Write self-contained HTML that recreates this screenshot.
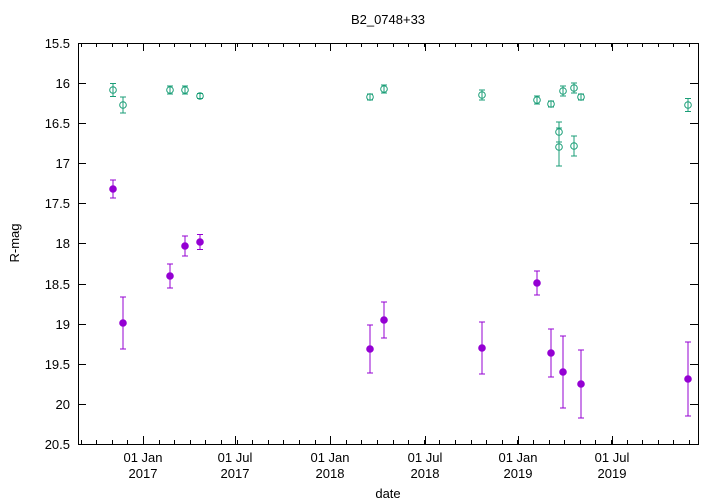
<!DOCTYPE html>
<html><head><meta charset="utf-8"><style>body{margin:0;background:#fff}svg{display:block}text{font-family:"Liberation Sans",sans-serif;font-size:13px;fill:#000}</style></head><body>
<svg width="720" height="504" xmlns="http://www.w3.org/2000/svg">
<rect width="720" height="504" fill="#fff"/>
<g id="ticks" stroke="#000" stroke-width="1">
</g>
<rect x="78.5" y="43.5" width="620" height="401" fill="none" stroke="#000"/>
<text x="388" y="24" text-anchor="middle">B2_0748+33</text>
<text x="388" y="498" text-anchor="middle">date</text>
<text transform="translate(19,243) rotate(-90)" text-anchor="middle">R-mag</text>
<g text-anchor="end">
<text x="70" y="48">15.5</text><text x="70" y="88">16</text><text x="70" y="128">16.5</text><text x="70" y="168">17</text><text x="70" y="208">17.5</text><text x="70" y="248">18</text><text x="70" y="289">18.5</text><text x="70" y="329">19</text><text x="70" y="369">19.5</text><text x="70" y="409">20</text><text x="70" y="449">20.5</text>
</g>
<g text-anchor="middle">
<text x="143" y="462">01 Jan</text><text x="143" y="478">2017</text>
<text x="235" y="462">01 Jul</text><text x="235" y="478">2017</text>
<text x="330" y="462">01 Jan</text><text x="330" y="478">2018</text>
<text x="425" y="462">01 Jul</text><text x="425" y="478">2018</text>
<text x="518" y="462">01 Jan</text><text x="518" y="478">2019</text>
<text x="612" y="462">01 Jul</text><text x="612" y="478">2019</text>
</g>
<g id="g" stroke="#1a9e77" fill="none" stroke-width="1"></g>
<g id="p" stroke="#9400d3" fill="#9400d3" stroke-width="1"></g>
<script>
var NS="http://www.w3.org/2000/svg";
function el(p,t,a){var e=document.createElementNS(NS,t);for(var k in a)e.setAttribute(k,a[k]);p.appendChild(e);return e;}
var T=document.getElementById('ticks');
for(var y=43;y<=444;y+=40.1){var yy=Math.round(y)+0.5;el(T,'line',{x1:78,y1:yy,x2:86,y2:yy});el(T,'line',{x1:698,y1:yy,x2:690,y2:yy});}
var maj=[143,235,330,425,518,612];
maj.forEach(function(x){el(T,'line',{x1:x+.5,y1:444,x2:x+.5,y2:436});el(T,'line',{x1:x+.5,y1:43,x2:x+.5,y2:51});});
for(var x=143-15.6*4;x<698;x+=15.6){var xx=Math.round(x)+.5;if(xx<79)continue;el(T,'line',{x1:xx,y1:444,x2:xx,y2:440});el(T,'line',{x1:xx,y1:43,x2:xx,y2:47});}
var G=document.getElementById('g'),P=document.getElementById('p');
function pt(g,x,y,e,fill){el(g,'line',{x1:x,y1:y-e,x2:x,y2:y+e});el(g,'line',{x1:x-3,y1:y-e,x2:x+3,y2:y-e});el(g,'line',{x1:x-3,y1:y+e,x2:x+3,y2:y+e});el(g,'circle',{cx:x,cy:y,r:3.3,fill:fill});}
[[113,90,6.5],[123,105,8],[170,90,4],[185,90,4],[200,96,2.5],[370,97,3],[384,89,4],[482,95,5],[537,100,4],[551,104,3],[559,132,10],[559,147,19],[563,91,5],[574,88,5],[574,146,10],[581,97,3],[688,105,6.5]].forEach(function(d){pt(G,d[0],d[1],d[2],'none');});
[[113,189,9],[123,323,26],[170,276,12],[185,246,10],[200,242,7.5],[370,349,24],[384,320,18],[482,348,26],[537,283,12],[551,353,24],[563,372,36],[581,384,34],[688,379,37]].forEach(function(d){pt(P,d[0],d[1],d[2],'#9400d3');});
</script>
</svg>
</body></html>
